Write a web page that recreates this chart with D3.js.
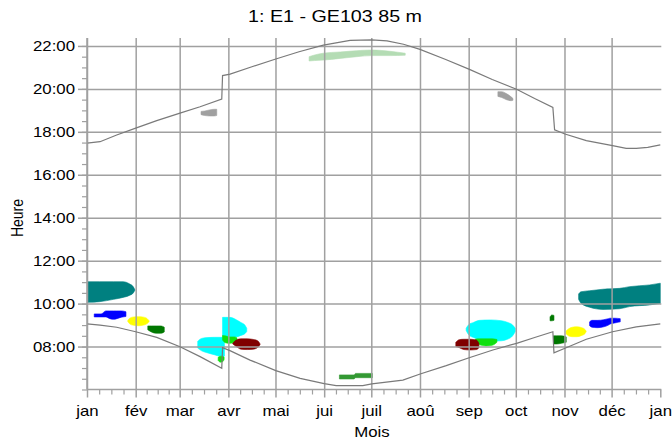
<!DOCTYPE html>
<html><head><meta charset="utf-8">
<script src="https://cdn.jsdelivr.net/npm/d3@7"></script>
<style>
html,body{margin:0;padding:0;background:#fff;}
svg{display:block;font-family:"Liberation Sans",Arial,sans-serif;}
</style></head><body>
<svg id="chart" width="672" height="443"></svg>
<script>
// ---------- DATA ----------
const chartTitle = "1: E1 - GE103 85 m";
const xTitle = "Mois";
const yTitle = "Heure";
const monthLabels = ["jan","fév","mar","avr","mai","jui","juil","aoû","sep","oct","nov","déc","jan"];
const yTickHours = [8,10,12,14,16,18,20,22];
const yTickLabels = ["08:00","10:00","12:00","14:00","16:00","18:00","20:00","22:00"];

// sunset curve (day of year, hour)
const sunsetDays  = [0,8.3,18.9,31,44.4,59.2,72,85.8,86.3,91.1,105,120.2,135,150.5,167.5,181.3,191,201.5,212,228,243.5,258,273.5,285,296.6,297.7,304.3,317.9,334.6,343.3,349.7,357,365];
const sunsetHours = [17.47,17.54,17.85,18.17,18.52,18.87,19.17,19.53,20.62,20.69,21.03,21.39,21.73,22.04,22.26,22.28,22.24,22.08,21.84,21.38,20.91,20.44,19.98,19.55,19.14,18.09,17.9,17.59,17.36,17.23,17.23,17.28,17.39];
// sunrise curve
const sunriseDays  = [0,8.3,18.9,31,44.4,59.2,72,85.8,86.3,91,103.8,120.2,135.7,151,158.6,175.6,181.3,201.1,212.1,228.7,243.3,258.4,273.5,285,296.6,297.3,304.3,317.9,334.6,349.7,365];
const sunriseHours = [9.06,9.0,8.9,8.69,8.43,7.99,7.53,6.99,7.95,7.81,7.37,6.88,6.52,6.27,6.18,6.18,6.26,6.44,6.72,7.11,7.48,7.84,8.15,8.42,8.69,7.71,7.92,8.34,8.69,8.92,9.06];

// shadow flicker periods: source id, days, start hour, end hour
const flicker = [
 {src:"teal",   day:[0.6,8,17,23,27,29.5,30.6], from:[10.06,10.09,10.2,10.29,10.38,10.5,10.63], to:[11.02,11.02,11.02,11.02,10.92,10.78,10.63]},
 {src:"blue",   day:[4.6,9,12,14.5,17,19,22,24.8], from:[9.38,9.38,9.38,9.3,9.27,9.3,9.37,9.4], to:[9.52,9.52,9.66,9.66,9.66,9.66,9.66,9.62]},
 {src:"yellow", day:[25.9,27,29,32.7,36,38.3,39.5], from:[9.18,9.07,9.0,8.97,9.0,9.07,9.16], to:[9.2,9.31,9.37,9.39,9.37,9.3,9.2]},
 {src:"dkgreen",day:[38.7,41,44,47,49.2], from:[8.78,8.68,8.62,8.62,8.68], to:[8.96,8.96,8.96,8.96,8.9]},
 {src:"gray",   day:[72.6,75,78,81,82.6], from:[18.8,18.76,18.74,18.74,18.76], to:[18.95,18.97,19.02,19.05,19.05]},
 {src:"cyan",   day:[70.5,73,77,81,85,87.5], from:[7.93,7.8,7.7,7.62,7.55,7.55], to:[8.25,8.38,8.42,8.43,8.43,8.43]},
 {src:"lime",   day:[83.5,85,86.5,87.3], from:[7.35,7.27,7.3,7.4], to:[7.5,7.55,7.55,7.5]},
 {src:"cyan",   day:[86.3,88,91,95,98,100.5,101.7], from:[8.35,8.4,8.43,8.45,8.52,8.6,8.7], to:[9.36,9.36,9.36,9.25,9.12,9.0,8.85]},
 {src:"lime",   day:[86.3,88,91,94,95.5], from:[8.3,8.18,8.15,8.2,8.3], to:[8.52,8.5,8.45,8.45,8.4]},
 {src:"maroon", day:[92.8,95,98,102,106,109,110.2], from:[8.12,8.0,7.88,7.86,7.88,7.98,8.1], to:[8.15,8.3,8.36,8.36,8.33,8.25,8.12]},
 {src:"pale",   day:[141.4,145,150.3,161.2,171.8,181.4,193,202.6], from:[21.3,21.32,21.34,21.42,21.5,21.55,21.55,21.57], to:[21.5,21.58,21.66,21.72,21.78,21.81,21.75,21.66]},
 {src:"green",  day:[160.7,170,171,181.7], from:[6.49,6.49,6.55,6.55], to:[6.68,6.68,6.75,6.75]},
 {src:"gray",   day:[261.6,264,267,270,271.2], from:[19.65,19.6,19.5,19.45,19.47], to:[19.87,19.87,19.78,19.63,19.55]},
 {src:"cyan",   day:[241.4,243,246,250,257,264,268,271,272.7], from:[8.75,8.55,8.42,8.33,8.25,8.27,8.35,8.5,8.7], to:[8.85,9.02,9.12,9.22,9.24,9.2,9.12,9.0,8.85]},
 {src:"lime",   day:[247.3,250,254,258,261], from:[8.2,8.08,8.03,8.06,8.2], to:[8.35,8.36,8.36,8.36,8.33]},
 {src:"maroon", day:[234.8,237,240,244,248,249.5], from:[8.0,7.95,7.86,7.84,7.86,7.95], to:[8.2,8.32,8.34,8.34,8.3,8.15]},
 {src:"dkgreen",day:[294.8,296,297.3], from:[9.2,9.2,9.22], to:[9.38,9.47,9.45]},
 {src:"dkgreen",day:[297,299,302,305.1], from:[8.12,8.12,8.15,8.2], to:[8.5,8.5,8.5,8.45]},
 {src:"yellow", day:[305,306.5,309,312,315,317,317.8], from:[8.6,8.5,8.46,8.46,8.52,8.6,8.7], to:[8.72,8.82,8.9,8.92,8.88,8.8,8.72]},
 {src:"blue",   day:[320,321.5,325,329,332,333,336,339.5], from:[8.97,8.9,8.88,8.92,9.0,9.05,9.1,9.15], to:[9.15,9.22,9.22,9.25,9.3,9.32,9.32,9.3]},
 {src:"teal",   day:[313,314.5,320,328.5,339,345.4,358.2,365], from:[10.2,10.02,9.83,9.73,9.76,9.86,9.94,10.01], to:[10.45,10.55,10.6,10.67,10.71,10.79,10.87,10.95]}
];

// ---------- STYLE ----------
const colors = {teal:"#008080", blue:"#0000ff", yellow:"#ffff00", dkgreen:"#007800", gray:"#a0a0a0",
  cyan:"#00ffff", lime:"#10e010", maroon:"#800000", pale:"#b4dcb4", green:"#339933"};
const W = 672, H = 443;
const pLeft = 87, pRight = 660.3, pTop = 38, pBottom = 389.5;
const gridColor = "#a0a0a0";
const textScale = "scale(1.2,1)";

const svg = d3.select("#chart");
svg.append("rect").attr("width",W).attr("height",H).attr("fill","#fff");

const yearStart = Date.UTC(2011,0,1);
const dayToDate = d => new Date(yearStart + d*864e5);
const monthStarts = d3.utcMonth.range(new Date(Date.UTC(2011,0,1)), new Date(Date.UTC(2012,0,2)));
const x = d3.scaleUtc().domain([new Date(Date.UTC(2011,0,1)), new Date(Date.UTC(2012,0,1))]).range([pLeft, pRight]);
const y = d3.scaleLinear().domain([6, 22.37]).range([pBottom, pTop]);

// minor x ticks: quarter points of each month
const minorX = [];
for (let i=0;i<12;i++){
  const a = +monthStarts[i], b = +monthStarts[i+1];
  for (let k=1;k<4;k++) minorX.push(new Date(a + (b-a)*k/4));
}

// ---------- FLICKER AREAS ----------
const area = d3.area()
  .x(p => x(dayToDate(p[0])))
  .y0(p => y(p[1]))
  .y1(p => y(p[2]))
  .curve(d3.curveMonotoneX);
svg.append("g").selectAll("path").data(flicker).join("path")
  .attr("d", f => area(f.day.map((d,i)=>[d,f.from[i],f.to[i]])))
  .attr("fill", f => colors[f.src])
  .attr("stroke", f => colors[f.src]).attr("stroke-width",0.6);

// ---------- GRID ----------
const gx = svg.append("g").attr("transform",`translate(0,${pBottom})`)
  .call(d3.axisBottom(x).tickValues(monthStarts.slice(0,12)).tickSize(-(pBottom-pTop)).tickFormat(""));
gx.select(".domain").remove();
gx.selectAll("line").attr("stroke",gridColor).attr("stroke-width",1.5);

const gy = svg.append("g").attr("transform",`translate(${pLeft},0)`)
  .call(d3.axisLeft(y).tickValues(yTickHours).tickSize(-(pRight+1-pLeft)).tickFormat(""));
gy.select(".domain").remove();
gy.selectAll("line").attr("stroke",gridColor).attr("stroke-width",1.5);

// ---------- SUN CURVES ----------
const line = d3.line().x(p => x(dayToDate(p[0]))).y(p => y(p[1]));
[[sunsetDays,sunsetHours],[sunriseDays,sunriseHours]].forEach(([ds,hs])=>{
  svg.append("path").attr("d", line(ds.map((d,i)=>[d,hs[i]])))
    .attr("fill","none").attr("stroke","#7a7a7a").attr("stroke-width",1.2);
});

// ---------- AXES ----------
svg.append("line").attr("x1",pLeft).attr("x2",pRight+1).attr("y1",pBottom).attr("y2",pBottom)
  .attr("stroke",gridColor).attr("stroke-width",1.5);
svg.append("line").attr("x1",pLeft).attr("x2",pLeft).attr("y1",pTop).attr("y2",pBottom)
  .attr("stroke",gridColor).attr("stroke-width",1.5);

// minor y ticks
const my = svg.append("g").attr("transform",`translate(${pLeft},0)`)
  .call(d3.axisLeft(y).tickValues(d3.range(6,22.01,0.5)).tickSize(5).tickFormat(""));
my.select(".domain").remove();
my.selectAll("line").attr("stroke",gridColor).attr("stroke-width",1.2);

// major y ticks + labels
const ay = svg.append("g").attr("transform",`translate(${pLeft},0)`)
  .call(d3.axisLeft(y).tickValues(yTickHours).tickSize(9).tickPadding(3).tickFormat((d,i)=>yTickLabels[i]));
ay.select(".domain").remove();
ay.selectAll("line").attr("stroke",gridColor).attr("stroke-width",1.5);
ay.selectAll("text").attr("x",-10).attr("transform",textScale)
  .attr("font-size",14).attr("fill","#000").attr("font-family","'Liberation Sans',Arial,sans-serif");

// minor x ticks
const mx = svg.append("g").attr("transform",`translate(0,${pBottom})`)
  .call(d3.axisBottom(x).tickValues(minorX).tickSize(5).tickFormat(""));
mx.select(".domain").remove();
mx.selectAll("line").attr("stroke",gridColor).attr("stroke-width",1.2);

// major x ticks + labels
const ax = svg.append("g").attr("transform",`translate(0,${pBottom})`)
  .call(d3.axisBottom(x).tickValues(monthStarts).tickSize(8).tickPadding(9).tickFormat((d,i)=>monthLabels[i]));
ax.select(".domain").remove();
ax.selectAll("line").attr("stroke",gridColor).attr("stroke-width",1.5);
ax.selectAll("text").attr("transform",textScale)
  .attr("font-size",14).attr("fill","#000").attr("font-family","'Liberation Sans',Arial,sans-serif");

// ---------- TITLES ----------
svg.append("text").attr("transform",`translate(335,22.3) ${textScale}`)
  .attr("text-anchor","middle").attr("font-size",16.4).attr("fill","#000").text(chartTitle);
svg.append("text").attr("transform",`translate(372,436.5) ${textScale}`)
  .attr("text-anchor","middle").attr("font-size",14).attr("fill","#000").text(xTitle);
svg.append("text").attr("transform",`translate(23,218) ${textScale} rotate(-90)`)
  .attr("text-anchor","middle").attr("font-size",14).attr("fill","#000").text(yTitle);
</script>
</body></html>
